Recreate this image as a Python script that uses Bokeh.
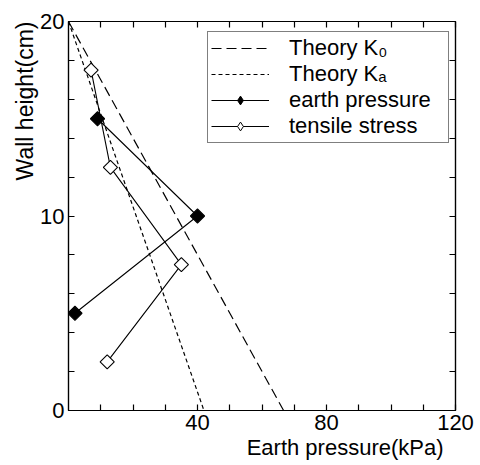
import numpy as np
from bokeh.plotting import figure
from bokeh.models import Range1d, LinearAxis, FixedTicker, Legend, LegendItem, Title
from bokeh.embed import file_html
from bokeh.resources import INLINE

# ---- data ----
k0_x = [0, 66.7]
k0_y = [20, 0]
ka_x = [0, 42]
ka_y = [20, 0]
earth_x = [9, 40, 2]
earth_y = [15, 10, 5]
tensile_x = [7, 13, 35, 12]
tensile_y = [17.5, 12.5, 7.5, 2.5]

x_major = [40, 80, 120]
x_minor = [10, 20, 30, 50, 60, 70, 90, 100, 110]
y_major = [0, 10, 20]
y_minor = [2, 4, 6, 8, 12, 14, 16, 18]

legend_labels = ["Theory K\u2080", "Theory K\u2090", "earth pressure", "tensile stress"]
x_title = "Earth pressure(kPa)"
y_title = "Wall height(cm)"

FONT = "Liberation Sans"

p = figure(width=480, height=465, output_backend="svg", toolbar_location=None,
           x_range=Range1d(0, 120), y_range=Range1d(0, 20),
           x_axis_location=None, y_axis_location=None,
           min_border_left=68, min_border_right=25, min_border_top=21, min_border_bottom=55)
p.grid.visible = False
p.outline_line_color = "black"
p.outline_line_width = 1.2
p.background_fill_color = "white"
p.border_fill_color = "white"


def make_axis(ticks, minor, labels):
    ax = LinearAxis(ticker=FixedTicker(ticks=ticks, minor_ticks=minor))
    ax.major_tick_in = 6
    ax.major_tick_out = 0
    ax.minor_tick_in = 6
    ax.minor_tick_out = 0
    ax.axis_line_color = "black"
    ax.axis_line_width = 1.2
    ax.major_tick_line_color = "black"
    ax.minor_tick_line_color = "black"
    ax.major_tick_line_width = 1.2
    ax.minor_tick_line_width = 1.2
    if labels:
        ax.major_label_text_font = FONT
        ax.major_label_text_font_size = "22px"
        ax.major_label_text_color = "black"
        ax.major_label_standoff = 4
    else:
        ax.major_label_overrides = {t: "" for t in ticks}
        ax.major_label_standoff = 0
    return ax


p.add_layout(make_axis(x_major, x_minor, True), "below")
p.add_layout(make_axis(y_major, y_minor, True), "left")
p.add_layout(make_axis(x_major, x_minor, False), "above")
p.add_layout(make_axis(y_major, y_minor, False), "right")

p.add_layout(Title(text=x_title, align="right", offset=12, standoff=0,
                   text_font=FONT, text_font_size="22px", text_font_style="normal",
                   text_color="black"), "below")
p.add_layout(Title(text=y_title, align="right", offset=0, standoff=0,
                   text_font=FONT, text_font_size="23px", text_font_style="normal",
                   text_color="black"), "left")

r_k0 = p.line(k0_x, k0_y, line_color="black", line_width=1.2, line_dash="10 5")
r_ka = p.line(ka_x, ka_y, line_color="black", line_width=1.2, line_dash="4 3")
r_el = p.line(earth_x, earth_y, line_color="black", line_width=1.1)
r_tl = p.line(tensile_x, tensile_y, line_color="black", line_width=1.1)
r_em = p.scatter(earth_x, earth_y, marker="square", angle=np.pi / 4, size=10,
                 fill_color="black", line_color="black", line_width=1.1)
r_tm = p.scatter(tensile_x, tensile_y, marker="square", angle=np.pi / 4, size=10,
                 fill_color="white", line_color="black", line_width=1.1)

# legend-only marker styles (NaN position: never drawn on the plot)
lg_em = p.scatter(x=[np.nan], y=[np.nan], marker="diamond",
                  fill_color="black", line_color="black")
lg_tm = p.scatter(x=[np.nan], y=[np.nan], marker="diamond",
                  fill_color="white", line_color="black")

legend = Legend(items=[
    LegendItem(label=legend_labels[0], renderers=[r_k0]),
    LegendItem(label=legend_labels[1], renderers=[r_ka]),
    LegendItem(label=legend_labels[2], renderers=[r_el, lg_em]),
    LegendItem(label=legend_labels[3], renderers=[r_tl, lg_tm]),
], location=(139, 267), padding=3, margin=0, spacing=0,
    glyph_width=58, glyph_height=22, label_height=22, label_width=156,
    label_standoff=20, label_text_font=FONT, label_text_font_size="22px",
    label_text_color="black",
    border_line_color="black", border_line_width=1.2,
    background_fill_color="white", background_fill_alpha=1.0)
p.add_layout(legend)

open("out.html", "w").write(file_html(p, INLINE))
